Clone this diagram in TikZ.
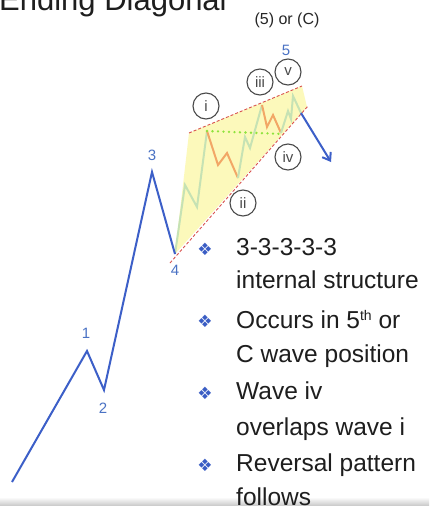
\documentclass[tikz,border=0pt]{standalone}
\usepackage{fontspec}
\setmainfont{Liberation Sans}
\newfontfamily\symfont{DejaVu Sans}
\usetikzlibrary{arrows.meta}
\definecolor{wblue}{HTML}{3C5FC8}
\definecolor{lblue}{HTML}{4A72C4}
\definecolor{yfill}{HTML}{FCF8B0}
\definecolor{gline}{HTML}{C6E2B4}
\definecolor{oline}{HTML}{F2A766}
\definecolor{rdash}{HTML}{D9534F}
\definecolor{gdot}{HTML}{8EE33C}
\definecolor{cgray}{HTML}{4A4A4A}
\definecolor{bul}{HTML}{3A5DC4}
\definecolor{txt}{HTML}{1E1E1E}
\begin{document}
\begin{tikzpicture}[x=1pt,y=-1pt,
  wavelbl/.style={text=lblue, inner sep=0, font=\fontsize{15}{15}\selectfont},
  subwave/.style={circle, draw=cgray, line width=1.1pt, minimum size=26pt, inner sep=0,
     text=cgray, font=\fontsize{15}{15}\selectfont},
  bulletmark/.style={text=bul, inner sep=0, font=\symfont\fontsize{17}{17}\selectfont},
  bodytext/.style={anchor=base west, inner sep=0, text=txt, font=\fontsize{24.5}{24.5}\selectfont},
  reddash/.style={draw=rdash, line width=0.9pt, dash pattern=on 3pt off 2pt},
  greenwave/.style={draw=gline, line width=2pt, line join=miter},
  orangewave/.style={draw=oline, line width=2pt, line join=miter}]
\clip (0,0) rectangle (429,506);
\fill[white] (0,0) rectangle (429,506);
\shade[top color=white, bottom color=black!22] (0,497) rectangle (429,506);

% title
\node[anchor=base west, inner sep=0, text=txt, font=\fontsize{31}{31}\selectfont] (title) at (-1,10) {Ending Diagonal};
\node[inner sep=0, text=black!85, font=\fontsize{16}{16}\selectfont] (label5C) at (287,20) {(5) or (C)};

% main wave coordinates
\coordinate (w0) at (12,482);
\coordinate (w1) at (87,351);
\coordinate (w2) at (104,390);
\coordinate (w3) at (152,172);
\coordinate (w4) at (175,254);

% diagonal region
\coordinate (tl) at (189,133);
\coordinate (tr) at (302,86);
\coordinate (br) at (307,107);
\fill[yfill, opacity=0.85] (w4) -- (tl) -- (tr) -- (br) -- cycle;

% internal waves
\coordinate (pi) at (207,131);
\coordinate (pii) at (238,178);
\coordinate (piii) at (262,105);
\coordinate (piv) at (281,133);
\coordinate (pv) at (293,96);
\coordinate (pend) at (301,113);
\coordinate (arrend) at (331,162);

\draw[greenwave] (w4) -- (185,185) -- (197,207) -- (pi);
\draw[orangewave] (pi) -- (218,165) -- (227,153) -- (pii);
\draw[greenwave] (pii) -- (245,137) -- (250,148) -- (piii);
\draw[orangewave] (piii) -- (267,127) -- (273,115) -- (piv);
\draw[greenwave] (piv) -- (288,111) -- (291,119) -- (pv) -- (pend);

% channel lines
\coordinate (lowA) at (170,263);
\coordinate (lowB) at (308,106);
\draw[reddash] (tl) -- (tr);
\draw[reddash] (lowA) -- (lowB);
\draw[gdot, line width=2.6pt, line cap=round, dash pattern=on 0pt off 5.5pt] (pi) -- (283,134);

% main wave
\draw[wblue, line width=2pt, line join=miter] (w0) -- (w1) -- (w2) -- (w3) -- (w4);
\draw[wblue, line width=2pt, -{Straight Barb[length=7pt,width=10pt]}] (pend) -- (arrend);

% wave labels
\node[wavelbl] (n1) at (86,333) {1};
\node[wavelbl] (n2) at (103,408) {2};
\node[wavelbl] (n3) at (152,155) {3};
\node[wavelbl] (n4) at (175,270) {4};
\node[wavelbl] (n5) at (286,50) {5};

% sub-wave circles
\node[subwave] (ci) at (206,106) {i};
\node[subwave] (cii) at (243,203) {ii};
\node[subwave] (ciii) at (260,82) {iii};
\node[subwave] (civ) at (288,157) {iv};
\node[subwave] (cv) at (288,72) {v};

% bullets
\node[bulletmark] (b1) at (205,249) {❖};
\node[bulletmark] (b2) at (205,321) {❖};
\node[bulletmark] (b3) at (205,393) {❖};
\node[bulletmark] (b4) at (205,465) {❖};

\node[bodytext] (t1a) at (236,255) {3-3-3-3-3};
\node[bodytext] (t1b) at (236,288.5) {internal structure};
\node[bodytext] (t2a) at (236,328.5) {Occurs in 5\raisebox{0.6ex}{\fontsize{14}{14}\selectfont th} or};
\node[bodytext] (t2b) at (236,362) {C wave position};
\node[bodytext] (t3a) at (236,399) {Wave iv};
\node[bodytext] (t3b) at (236,435) {overlaps wave i};
\node[bodytext] (t4a) at (236,471.5) {Reversal pattern};
\node[bodytext] (t4b) at (236,505) {follows};
\end{tikzpicture}
\end{document}
